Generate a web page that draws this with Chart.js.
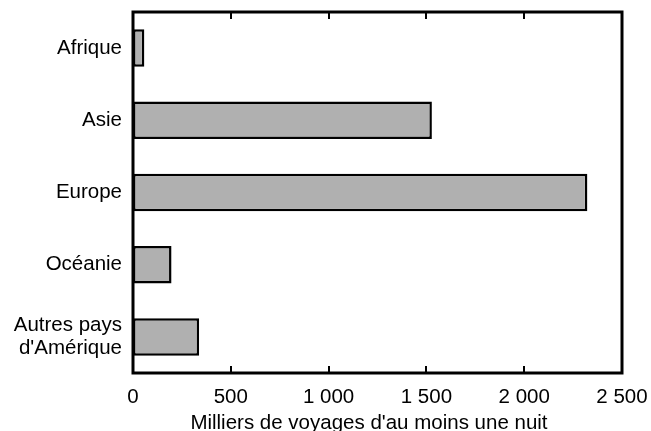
<!DOCTYPE html>
<html lang="fr">
<head>
    <meta charset="UTF-8">
    <title>Voyages d'au moins une nuit</title>
    <script src="https://cdn.jsdelivr.net/npm/chart.js@4/dist/chart.umd.min.js"></script>
    <style>
        html, body { margin: 0; padding: 0; background: #fff; }
        #wrap { width: 651px; height: 431px; position: relative; }
    </style>
</head>
<body>
    <div id="wrap">
        <canvas id="voyagesChart"></canvas>
    </div>

    <script>
        const regions = ['Afrique', 'Asie', 'Europe', 'Océanie', ['Autres pays', "d'Amérique"]];
        const voyages = [58, 1528, 2323, 197, 338];
        const tickValues = [0, 500, 1000, 1500, 2000, 2500];
        const tickLabels = ['0', '500', '1 000', '1 500', '2 000', '2 500'];

        const police = "'Liberation Sans', Arial, sans-serif";

        // cadre du graphique + petites graduations vers l'intérieur
        const cadre = {
            id: 'cadre',
            afterDatasetsDraw(chart) {
                const { ctx, chartArea: a } = chart;
                const x = chart.scales.x;
                ctx.save();
                ctx.strokeStyle = '#000';
                ctx.lineWidth = 2;
                x.ticks.forEach(t => {
                    if (t.value === 0 || t.value === 2500) return;
                    const px = Math.round(x.getPixelForValue(t.value));
                    ctx.beginPath();
                    ctx.moveTo(px, a.top);
                    ctx.lineTo(px, a.top + 7);
                    ctx.moveTo(px, a.bottom);
                    ctx.lineTo(px, a.bottom - 7);
                    ctx.stroke();
                });
                ctx.lineWidth = 3;
                ctx.strokeRect(a.left, a.top, a.right - a.left, a.bottom - a.top);
                ctx.restore();
            }
        };

        function sansMarge(scale) {
            scale.paddingTop = 0;
            scale.paddingBottom = 0;
            scale.paddingLeft = 0;
            scale.paddingRight = 0;
        }

        new Chart(document.getElementById('voyagesChart'), {
            type: 'bar',
            data: {
                labels: regions,
                datasets: [{
                    data: voyages,
                    backgroundColor: '#b0b0b0',
                    borderColor: '#000',
                    borderWidth: 2.5,
                    borderSkipped: false,
                    barPercentage: 0.52,
                    categoryPercentage: 1
                }]
            },
            options: {
                indexAxis: 'y',
                responsive: true,
                maintainAspectRatio: false,
                animation: false,
                layout: { padding: { top: 12, right: 29, left: 0, bottom: 0 } },
                scales: {
                    x: {
                        min: 0,
                        max: 2500,
                        afterFit(scale) { scale.height = 58; sansMarge(scale); },
                        afterBuildTicks(scale) {
                            scale.ticks = tickValues.map(v => ({ value: v }));
                        },
                        grid: { display: false, drawTicks: false },
                        border: { display: false },
                        ticks: {
                            padding: 12,
                            color: '#000',
                            maxRotation: 0,
                            font: { family: police, size: 20.5 },
                            callback: (v) => tickLabels[tickValues.indexOf(v)]
                        },
                        title: {
                            display: true,
                            // espaces finaux : le titre est un peu décalé à gauche dans l'original
                            text: "Milliers de voyages d'au moins une nuit   ",
                            color: '#000',
                            padding: { top: 0, bottom: -5 },
                            font: { family: police, size: 20.5 }
                        }
                    },
                    y: {
                        afterFit(scale) { scale.width = 133; sansMarge(scale); },
                        grid: { display: false, drawTicks: false },
                        border: { display: false },
                        ticks: {
                            padding: 11,
                            color: '#000',
                            font: { family: police, size: 20.5, lineHeight: 1.1 }
                        }
                    }
                },
                plugins: {
                    legend: { display: false },
                    tooltip: { enabled: false }
                }
            },
            plugins: [cadre]
        });
    </script>
</body>
</html>
